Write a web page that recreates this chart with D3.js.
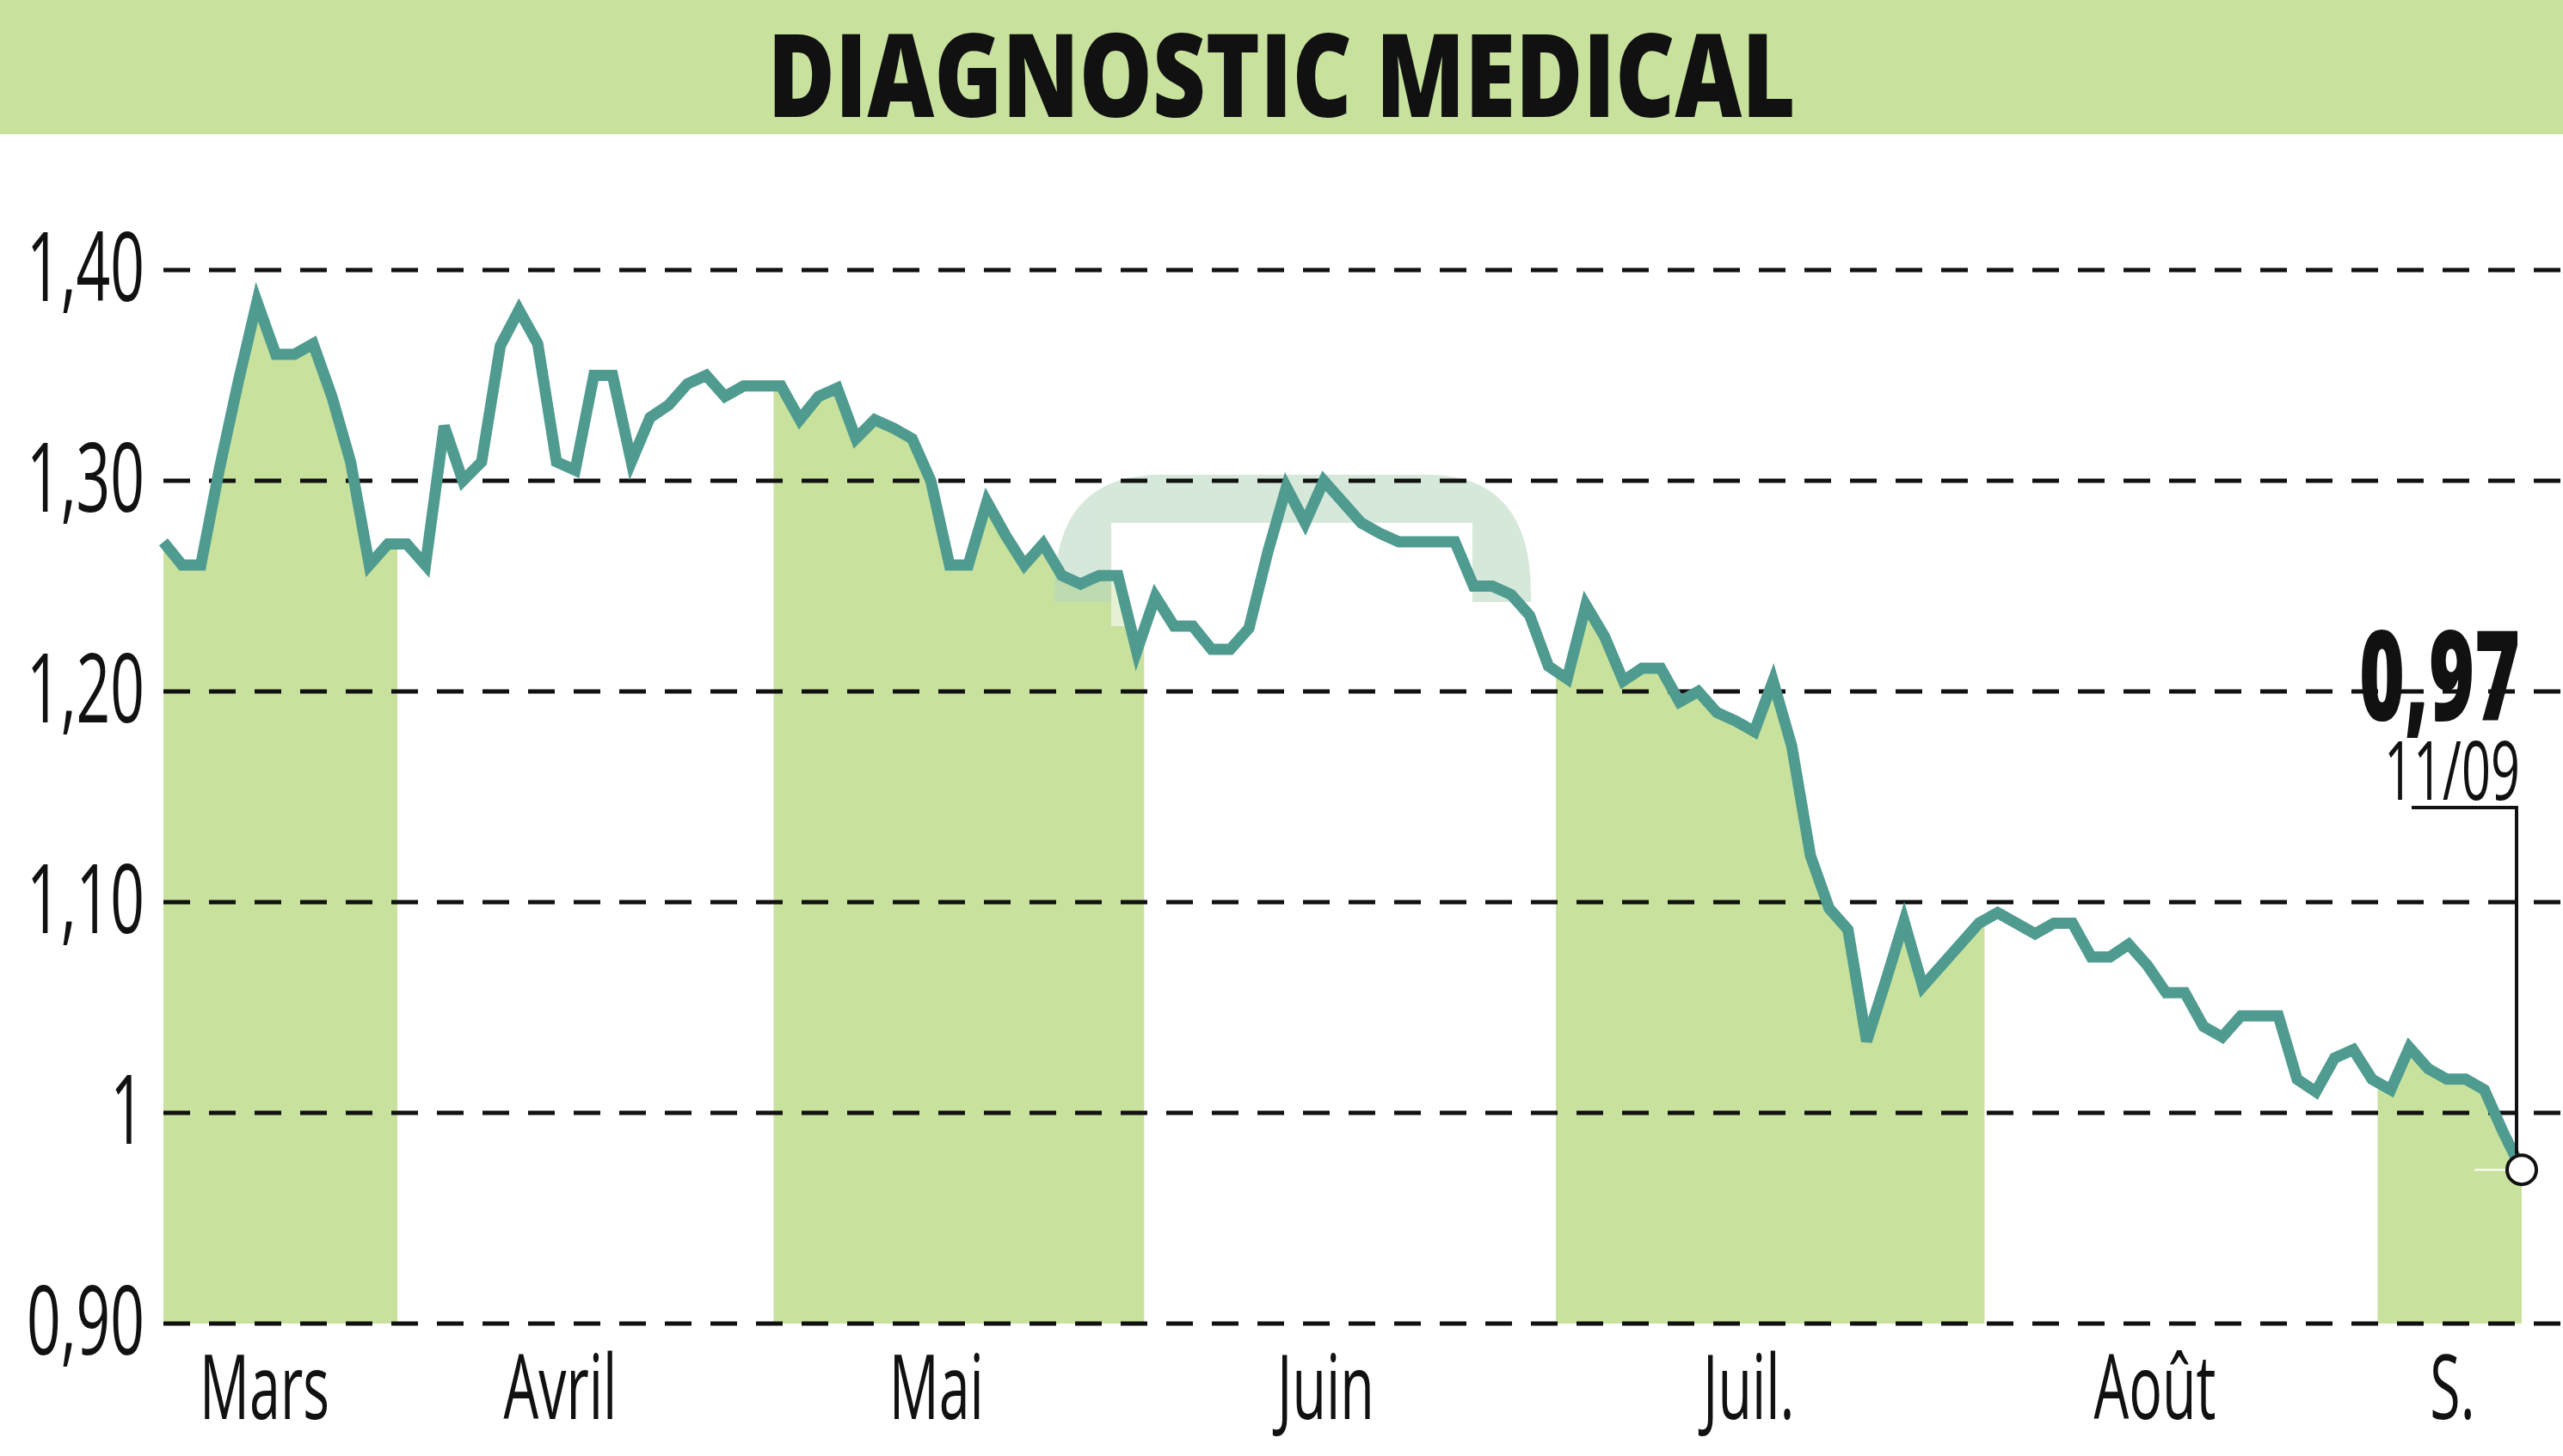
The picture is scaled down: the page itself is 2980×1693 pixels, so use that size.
<!DOCTYPE html>
<html><head><meta charset="utf-8">
<script src="https://cdn.jsdelivr.net/npm/d3@7"></script>
<style>body{margin:0;background:#fff}svg{display:block}</style>
</head><body>
<script>
const title = "DIAGNOSTIC MEDICAL";
const yTicks = [0.9, 1.0, 1.1, 1.2, 1.3, 1.4];
const yTickLabels = ["0,90", "1", "1,10", "1,20", "1,30", "1,40"];
const months = ["Mars", "Avril", "Mai", "Juin", "Juil.", "Août", "S."];
const monthPos = [5.4, 21.2, 41.3, 62.1, 84.7, 106.4, 122.3];
const bands = [[-0.3, 12.5], [32.6, 52.4], [74.4, 97.3], [118.3, 126.2]];
const prices = [1.271,1.26,1.26,1.306,1.347,1.385,1.36,1.36,1.365,1.34,1.309,1.26,1.27,1.27,1.26,1.326,1.30,1.309,1.364,1.381,1.365,1.309,1.305,1.35,1.35,1.309,1.33,1.336,1.346,1.35,1.34,1.345,1.345,1.345,1.329,1.34,1.344,1.32,1.329,1.325,1.32,1.30,1.26,1.26,1.29,1.274,1.26,1.27,1.255,1.251,1.255,1.255,1.219,1.245,1.231,1.231,1.22,1.22,1.23,1.266,1.297,1.28,1.30,1.29,1.28,1.275,1.271,1.271,1.271,1.271,1.25,1.25,1.246,1.236,1.212,1.206,1.241,1.226,1.205,1.211,1.211,1.195,1.20,1.19,1.186,1.181,1.205,1.174,1.122,1.097,1.087,1.034,1.062,1.091,1.06,1.07,1.08,1.09,1.095,1.09,1.085,1.09,1.09,1.074,1.074,1.08,1.07,1.057,1.057,1.041,1.036,1.046,1.046,1.046,1.016,1.01,1.026,1.03,1.016,1.011,1.031,1.021,1.016,1.016,1.011,0.991,0.973];
const lastLabel = "0,97", lastDate = "11/09";

const W = 2980, H = 1693;
const svg = d3.select("body").append("svg").attr("width", W).attr("height", H);
const n = prices.length;
const x = d3.scaleLinear().domain([0, n - 1]).range([190, 2932]);
const y = d3.scaleLinear().domain([0.9, 1.4]).range([1539, 314]);
const font = "'Open Sans','Liberation Sans',sans-serif";
const SX = 0.62;
function ctext(px, py, str, size, anchor, weight) {
  return svg.append("text").attr("transform", `translate(${px},${py}) scale(${SX},1)`)
    .attr("text-anchor", anchor).attr("font-family", font).attr("font-size", size)
    .attr("font-weight", weight || "normal").attr("fill", "#111").text(str);
}

svg.append("rect").attr("x", 0).attr("y", 0).attr("width", W).attr("height", 156).attr("fill", "#c8e29e");
svg.append("text").attr("x", W / 2).attr("y", 136).attr("text-anchor", "middle")
  .attr("font-family", font).attr("font-weight", "800").attr("font-size", 134)
  .attr("textLength", 1195).attr("lengthAdjust", "spacingAndGlyphs").attr("fill", "#111").text(title);

const defs = svg.append("defs");
const clip = defs.append("clipPath").attr("id", "bandclip");
bands.forEach(b => clip.append("rect").attr("x", x(b[0])).attr("y", 0).attr("width", x(b[1]) - x(b[0])).attr("height", H));
const area = d3.area().x((d, i) => x(i)).y0(y(0.9)).y1(d => y(d));
svg.append("path").datum(prices).attr("d", area).attr("fill", "#c8e29e").attr("clip-path", "url(#bandclip)");

const wm = svg.append("g").attr("opacity", 0.55);
wm.append("path").attr("d", `M1226,690 Q1226,552 1350,552 L1660,552 Q1780,552 1780,690 L1780,700 L1226,700 Z`).attr("fill", "#b5d6bd");
wm.append("rect").attr("x", 1292).attr("y", 608).attr("width", 420).attr("height", 120).attr("fill", "#fff");

svg.append("g").selectAll("line").data(yTicks).join("line")
  .attr("x1", 190).attr("x2", W).attr("y1", d => y(d)).attr("y2", d => y(d))
  .attr("stroke", "#111").attr("stroke-width", 5).attr("stroke-dasharray", "31,22");
yTicks.forEach((d, i) => ctext(168, y(d) + 36, yTickLabels[i], 112, "end"));
months.forEach((m, i) => ctext(x(monthPos[i]), 1650, m, 104, "middle"));

svg.append("path").datum(prices).attr("d", d3.line().x((d, i) => x(i)).y(d => y(d)))
  .attr("fill", "none").attr("stroke", "#4f9b8f").attr("stroke-width", 13).attr("stroke-linejoin", "miter");

const lx = x(n - 1), ly = y(prices[n - 1]);
svg.append("line").attr("x1", lx - 55).attr("x2", lx - 10).attr("y1", ly).attr("y2", ly).attr("stroke", "#fff").attr("stroke-width", 2);
svg.append("path").attr("d", `M${lx - 128},${939} L${lx - 6},${939} L${lx - 6},${ly - 18}`).attr("fill", "none").attr("stroke", "#111").attr("stroke-width", 4);
svg.append("circle").attr("cx", lx).attr("cy", ly).attr("r", 17).attr("fill", "#fff").attr("stroke", "#111").attr("stroke-width", 4);
ctext(lx - 2, 838, lastLabel, 146, "end", "800");
ctext(lx - 2, 930, lastDate, 96, "end");
</script>
</body></html>
